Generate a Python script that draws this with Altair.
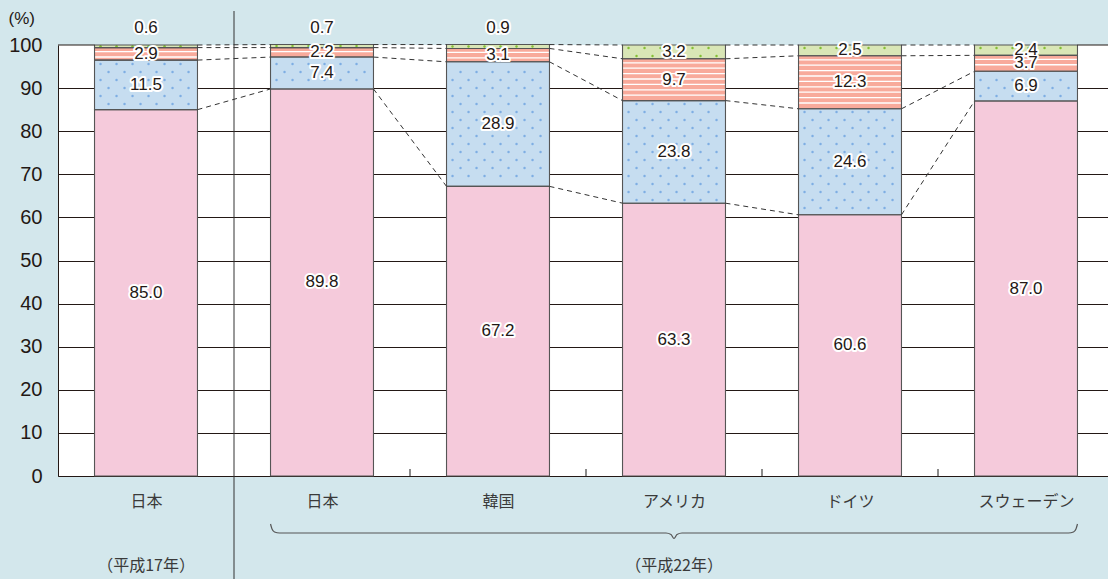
import json
import altair as alt
import numpy as np
import pandas as pd

# ---------------- data ----------------
categories = ["日本", "日本", "韓国", "アメリカ", "ドイツ", "スウェーデン"]
year_labels = ["（平成17年）", "（平成22年）"]
year_centers = [0.5, 3.5]
seg_pink = [85.0, 89.8, 67.2, 63.3, 60.6, 87.0]
seg_blue = [11.5, 7.4, 28.9, 23.8, 24.6, 6.9]
seg_salmon = [2.9, 2.2, 3.1, 9.7, 12.3, 3.7]
seg_green = [0.6, 0.7, 0.9, 3.2, 2.5, 2.4]
y_ticks = list(range(0, 101, 10))

segments = ["pink", "blue", "salmon", "green"]
seg_colors = ["#f5cadb", "#c6ddf0", "#f8aa9b", "#d9e6b6"]
values = [seg_pink, seg_blue, seg_salmon, seg_green]

# ---------------- geometry ----------------
W, H = 1050, 431
STEP = 176.0          # px per category
PO, BW = 0.2075, 0.585  # outer pad and bar width in category units
PXY = H / 100.0
INK = "#231815"
BG = "#d3e7ec"

xs = alt.Scale(domain=[0, 6], range=[0, 6 * STEP], nice=False, zero=False)
ys = alt.Scale(domain=[0, 100], nice=False, zero=True)

# bars table
rows = []
cum = np.zeros(6)
levels = []
for s, vals in zip(segments, values):
    for i in range(6):
        rows.append(dict(i=i, seg=s, v=vals[i], y0=cum[i], y1=cum[i] + vals[i],
                         xl=i + PO, xr=i + PO + BW, xc=i + 0.5))
    cum = cum + np.array(vals)
    levels.append(cum.copy())
bars_df = pd.DataFrame(rows)

# dashed connectors between neighbouring bars
conn = []
for i in range(5):
    for lv in levels:
        conn.append(dict(x=i + PO + BW, x2=i + 1 + PO, y=lv[i], y2=lv[i + 1]))
conn_df = pd.DataFrame(conn)


def to_py(u):
    return H - u * PXY


def to_u(py):
    return (H - py) / PXY


# textures (decoration): dots for blue/green, white stripes for salmon
dots, stripes = [], []
for r in rows:
    top, bot = to_py(r["y1"]), to_py(r["y0"])
    xl_px, xr_px = r["xl"] * STEP, r["xr"] * STEP
    if r["seg"] in ("blue", "green"):
        col = "#7eaee3" if r["seg"] == "blue" else "#84c034"
        ks = [k for k in range(0, 60) if top + 2.5 <= 3 + 8 * k <= bot - 2.5]
        rowlist = [(3 + 8 * k, k % 2) for k in ks]
        if not rowlist:
            rowlist = [((top + bot) / 2, 0)]
        for py, par in rowlist:
            px = xl_px + 6 + par * 8
            while px < xr_px - 3:
                dots.append(dict(x=px / STEP, y=to_u(py), c=col))
                px += 16
    elif r["seg"] == "salmon":
        py = top + 4.0
        while py <= bot - 3.0:
            stripes.append(dict(x=r["xl"], x2=r["xr"], y=to_u(py)))
            py += 5.4
dots_df = pd.DataFrame(dots)
stripes_df = pd.DataFrame(stripes)

# top border at 100 outside the bars
edge_df = pd.DataFrame([dict(x=0, x2=PO, y=100), dict(x=5 + PO + BW, x2=6, y=100)])

# bottom small ticks at category boundaries
tick_df = pd.DataFrame(dict(x=[2, 3, 4, 5]))
div_df = pd.DataFrame(dict(x=[1]))

# brace under the 平成22年 group
L, R = 1 + PO, 5 + PO + BW
C = (L + R) / 2
bp = [(L, 524), (L + 1.5 / STEP, 529), (L + 4 / STEP, 532), (L + 9 / STEP, 533),
      (C - 8 / STEP, 533), (C - 3 / STEP, 534.5), (C, 538.5), (C + 3 / STEP, 534.5),
      (C + 8 / STEP, 533), (R - 9 / STEP, 533), (R - 4 / STEP, 532), (R - 1.5 / STEP, 529),
      (R, 524)]
brace_df = pd.DataFrame([dict(o=k, x=p[0], y=to_u(p[1] - 45)) for k, p in enumerate(bp)])

year_df = pd.DataFrame(dict(x=year_centers, t=year_labels))

# ---------------- chart ----------------
label_expr = json.dumps(categories, ensure_ascii=False) + "[floor(datum.value)]"

x_axis = alt.Axis(values=[k + 0.5 for k in range(6)], labelExpr=label_expr, ticks=False,
                  grid=False, domainColor=INK, domainWidth=1, labelPadding=17,
                  labelFont="Noto Sans CJK JP", labelFontSize=16, labelColor="#3a3a3a",
                  labelFlush=False, title=None)
y_axis = alt.Axis(values=y_ticks, ticks=False, labelPadding=16, labelFont="Liberation Sans",
                  labelFontSize=20, labelColor=INK, domainColor=INK, domainWidth=1,
                  grid=True, gridWidth=1,
                  gridColor={"condition": {"test": "datum.value === 100", "value": "transparent"},
                             "value": INK},
                  title="(%)", titleAngle=0, titleAlign="left", titleBaseline="middle",
                  titleX=-50, titleY=-27, titleFont="Liberation Sans", titleFontSize=17,
                  titleFontWeight="normal", titleColor=INK)


def X(f):
    return alt.X(f, scale=xs, axis=x_axis)


def Y(f):
    return alt.Y(f, scale=ys, axis=y_axis)


base = alt.Chart(bars_df)

bars = base.mark_rect(strokeWidth=0).encode(
    x=X("xl:Q"), x2="xr:Q", y=Y("y0:Q"), y2="y1:Q",
    color=alt.Color("seg:N", scale=alt.Scale(domain=segments, range=seg_colors), legend=None),
)

dot_layer = alt.Chart(dots_df).mark_circle(size=6, opacity=1).encode(
    x=X("x:Q"), y=Y("y:Q"), color=alt.Color("c:N", scale=None),
)

stripe_layer = alt.Chart(stripes_df).mark_rule(color="white", strokeWidth=1.3).encode(
    x=X("x:Q"), x2="x2:Q", y=Y("y:Q"),
)

outline = base.mark_rect(fill="transparent", stroke="#555555", strokeWidth=1.1).encode(
    x=X("xl:Q"), x2="xr:Q", y=Y("y0:Q"), y2="y1:Q",
)

edge = alt.Chart(edge_df).mark_rule(color=INK, strokeWidth=1).encode(
    x=X("x:Q"), x2="x2:Q", y=Y("y:Q"),
)

connectors = alt.Chart(conn_df).mark_rule(color="#333333", strokeWidth=1, strokeDash=[5, 4]).encode(
    x=X("x:Q"), x2="x2:Q", y=Y("y:Q"), y2="y2:Q",
)

divider = alt.Chart(div_df).mark_rule(color="#333333", strokeWidth=1).encode(
    x=X("x:Q"), y=alt.value(-34), y2=alt.value(534),
)

ticks = alt.Chart(tick_df).mark_rule(color="#666666", strokeWidth=1.5).encode(
    x=X("x:Q"), y=alt.value(H), y2=alt.value(H - 7),
)

lab = base.transform_calculate(
    ly="datum.v < 1 ? 104 : (datum.y0 + datum.y1) / 2"
)
halo = lab.mark_text(font="Liberation Sans", fontSize=17, stroke="white", strokeWidth=4,
                     strokeJoin="round", fill="white", baseline="middle").encode(
    x=X("xc:Q"), y=Y("ly:Q"), text=alt.Text("v:Q", format=".1f"),
)
text = lab.mark_text(font="Liberation Sans", fontSize=17, color=INK, baseline="middle").encode(
    x=X("xc:Q"), y=Y("ly:Q"), text=alt.Text("v:Q", format=".1f"),
)

brace = alt.Chart(brace_df).mark_line(color="#555555", strokeWidth=1.2, interpolate="monotone").encode(
    x=X("x:Q"), y=Y("y:Q"), order="o:Q",
)

years = alt.Chart(year_df).mark_text(font="Noto Sans CJK JP", fontSize=16, color="#3a3a3a",
                                     baseline="middle").encode(
    x=X("x:Q"), y=alt.value(521), text="t:N",
)

chart = alt.layer(
    bars, dot_layer, stripe_layer, outline, edge, connectors, divider, ticks,
    halo, text, brace, years,
).properties(
    width=W, height=H,
    autosize=alt.AutoSizeParams(type="none"),
    padding={"left": 58, "top": 45, "right": 0, "bottom": 103},
    background=BG,
).configure_view(fill="white", stroke=None)

chart.save("out.html", embed_options={"renderer": "svg", "actions": False})
